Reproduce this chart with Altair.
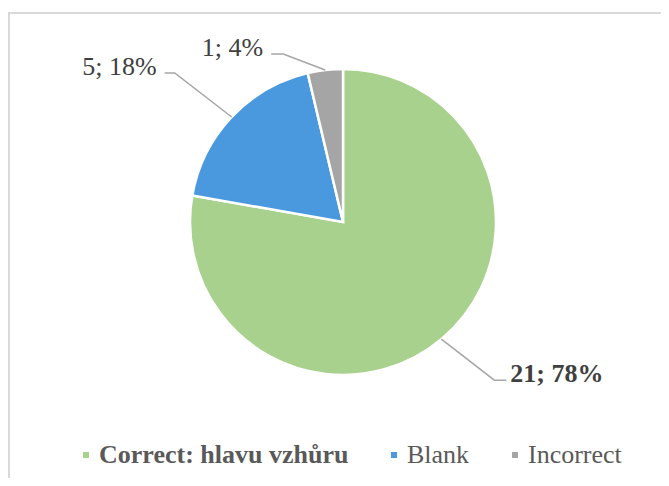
import math
import altair as alt
import pandas as pd

# ---- data ----
categories = ["Correct: hlavu vzhůru", "Blank", "Incorrect"]
counts = [21, 5, 1]
percent_labels = ["78%", "18%", "4%"]

# ---- styles / layout ----
colors = ["#a9d18e", "#4a99df", "#a5a5a5"]
W, H = 652, 465          # plot area
CX, CY = 334, 209        # pie centre inside the plot area
R = 153                  # pie radius
label_dx = [53, -57, -42]   # leader elbow offset from slice edge
label_dy = [41, -44, -16]
tail = [12, -10, -12]       # horizontal leader segment
text_gap = [4, -8, -8]
text_dy = -6
FONT = "Liberation Serif"

total = sum(counts)
pie_rows, line_rows, text_rows = [], [], []
cum = 0
for i, (cat, c, p) in enumerate(zip(categories, counts, percent_labels)):
    mid = (cum + c / 2) / total * 2 * math.pi
    cum += c
    ex, ey = R * math.sin(mid), -R * math.cos(mid)
    bx, by = ex + label_dx[i], ey + label_dy[i]
    tx = bx + tail[i]
    pie_rows.append({"category": cat, "count": c, "idx": i, "cx": 0, "cy": 0})
    for k, (px, py) in enumerate([(ex, ey), (bx, by), (tx, by)]):
        line_rows.append({"category": cat, "pt": k, "x": px, "y": py})
    text_rows.append({
        "category": cat,
        "label": f"{c}; {p}",
        "x": tx + text_gap[i],
        "y": by + text_dy,
        "side": "left" if tail[i] > 0 else "right",
    })

pie_df = pd.DataFrame(pie_rows)
line_df = pd.DataFrame(line_rows)
text_df = pd.DataFrame(text_rows)

xs = alt.Scale(domain=[-CX, W - CX], nice=False, zero=False)
ys = alt.Scale(domain=[-CY, H - CY], nice=False, zero=False, reverse=True)

legend = alt.Legend(
    title=None,
    orient="none",
    legendX=64,
    legendY=429,
    direction="horizontal",
    symbolType="square",
    symbolSize=36,
    symbolStrokeWidth=0,
    labelFont=FONT,
    labelFontSize=26,
    labelColor="#595959",
    labelOffset=0,
    labelLimit=400,
    columnPadding=32,
    padding=0,
    labelFontWeight=alt.ExprRef(expr="datum.label == 'Correct: hlavu vzhůru' ? 'bold' : 'normal'"),
)

pie = alt.Chart(pie_df).mark_arc(outerRadius=R, stroke="white", strokeWidth=2.5).encode(
    theta=alt.Theta("count:Q", stack=True),
    order=alt.Order("idx:Q", sort="ascending"),
    color=alt.Color("category:N", scale=alt.Scale(domain=categories, range=colors), legend=legend),
    x=alt.X("cx:Q", scale=xs, axis=None),
    y=alt.Y("cy:Q", scale=ys, axis=None),
)

leaders = alt.Chart(line_df).mark_line(color="#a6a6a6", strokeWidth=1.5).encode(
    x=alt.X("x:Q", scale=xs, axis=None),
    y=alt.Y("y:Q", scale=ys, axis=None),
    detail="category:N",
    order=alt.Order("pt:Q"),
)

text_left = alt.Chart(text_df).transform_filter(alt.datum.side == "left").mark_text(
    align="left", baseline="middle", font=FONT, fontSize=26, fontWeight="bold", color="#404040"
).encode(
    x=alt.X("x:Q", scale=xs, axis=None),
    y=alt.Y("y:Q", scale=ys, axis=None),
    text="label:N",
)

text_right = alt.Chart(text_df).transform_filter(alt.datum.side == "right").mark_text(
    align="right", baseline="middle", font=FONT, fontSize=26, color="#404040"
).encode(
    x=alt.X("x:Q", scale=xs, axis=None),
    y=alt.Y("y:Q", scale=ys, axis=None),
    text="label:N",
)

frame_left = alt.Chart(alt.Data(values=[{}])).mark_rule(color="#d9d9d9", strokeWidth=2).encode(
    x=alt.value(0), y=alt.value(0), y2=alt.value(H + 20)
)
frame_top = alt.Chart(alt.Data(values=[{}])).mark_rule(color="#d9d9d9", strokeWidth=2).encode(
    x=alt.value(-1), x2=alt.value(W + 20), y=alt.value(0)
)

chart = alt.layer(frame_left, frame_top, pie, leaders, text_left, text_right).properties(
    width=W,
    height=H,
    autosize=alt.AutoSizeParams(type="none"),
    padding={"left": 1, "top": 5, "right": 0, "bottom": 0},
    background="white",
).configure_view(stroke=None)

chart.save("out.html", embed_options={"renderer": "svg", "actions": False})
